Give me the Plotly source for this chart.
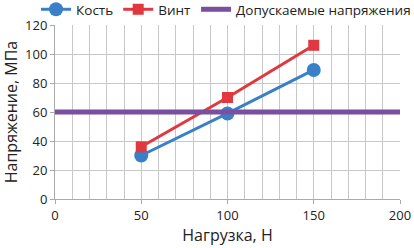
import plotly.graph_objects as go

loads = [50, 100, 150]
bone = [30, 59, 89]
screw = [36, 70, 106]
allow_x = [0, 200]
allow_y = [60, 60]

grid = "#c8c8c8"
fig = go.Figure()
fig.add_trace(go.Scatter(x=loads, y=bone, name="Кость", mode="lines+markers",
                         line=dict(color="#3a80c8", width=3),
                         marker=dict(symbol="circle", size=14, color="#3a80c8")))
fig.add_trace(go.Scatter(x=loads, y=screw, name="Винт", mode="lines+markers",
                         line=dict(color="#e0383e", width=3),
                         marker=dict(symbol="square", size=11, color="#e0383e")))
fig.add_trace(go.Scatter(x=allow_x, y=allow_y, name="Допускаемые напряжения", mode="lines",
                         line=dict(color="#7b4fa0", width=5)))

fig.update_layout(
    width=414, height=248,
    margin=dict(l=55, r=14, t=25, b=49, autoexpand=False),
    paper_bgcolor="white", plot_bgcolor="white",
    font=dict(family="Open Sans", size=13, color="#222"),
    legend=dict(orientation="h", x=-0.055, y=1.0, yanchor="bottom", xanchor="left",
                font=dict(size=13.5), itemwidth=30, tracegroupgap=0,
                bgcolor="rgba(0,0,0,0)"),
    showlegend=True,
)
fig.update_xaxes(range=[0, 200], dtick=50, showgrid=True, gridcolor=grid,
                 minor=dict(dtick=10, showgrid=True, gridcolor=grid),
                 showline=True, linecolor="#aaa", ticks="outside", tickcolor="#aaa", ticklen=4,
                 zeroline=False, title=dict(text="Нагрузка, Н", standoff=6),
                 tickfont=dict(size=13), automargin=False)
fig.update_yaxes(range=[0, 120], dtick=20, showgrid=True, gridcolor=grid,
                 showline=True, linecolor="#aaa", ticks="outside", tickcolor="#aaa", ticklen=4,
                 zeroline=False, title=dict(text="Напряжение, МПа", standoff=4),
                 tickfont=dict(size=13), automargin=False)
fig.write_html("out.html", config={"displayModeBar": False},
               post_script="document.body.style.margin='0';")
